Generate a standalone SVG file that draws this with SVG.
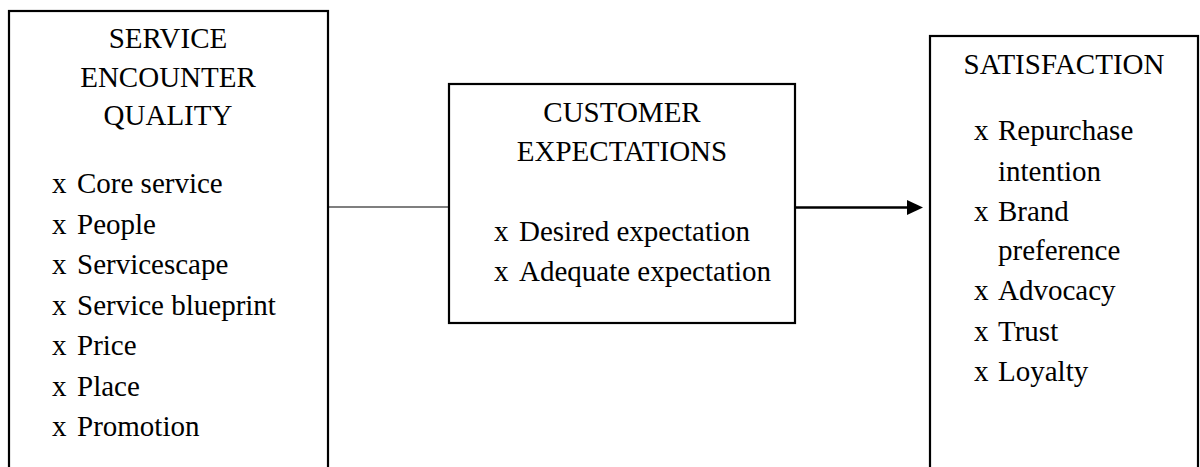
<svg xmlns="http://www.w3.org/2000/svg" width="1200" height="467" viewBox="0 0 1200 467">
<style>
.box{fill:#fff;stroke:#000;stroke-width:2.2}
.t{font-family:'Liberation Serif','Times New Roman',serif;font-size:29px;fill:#000}
.c{text-anchor:middle}
</style>
<rect width="1200" height="467" fill="#fff"/>
<g id="connectors">
<line x1="328" y1="207" x2="449" y2="207" stroke="#000" stroke-width="1.2"/>
<line x1="795" y1="207.5" x2="908" y2="207.5" stroke="#000" stroke-width="2.5"/>
<path d="M907,200 L923,207.5 L907,215 Z" fill="#000"/>
</g>
<g id="service-encounter-quality">
<rect class="box" x="9" y="11" width="319" height="470"/>
<text class="t c" x="168" y="48">SERVICE</text>
<text class="t c" x="168" y="87">ENCOUNTER</text>
<text class="t c" x="168" y="125">QUALITY</text>
<text class="t" x="52" y="193">x</text><text class="t" x="77" y="193">Core service</text>
<text class="t" x="52" y="233.5">x</text><text class="t" x="77" y="233.5">People</text>
<text class="t" x="52" y="274">x</text><text class="t" x="77" y="274">Servicescape</text>
<text class="t" x="52" y="314.5">x</text><text class="t" x="77" y="314.5">Service blueprint</text>
<text class="t" x="52" y="355">x</text><text class="t" x="77" y="355">Price</text>
<text class="t" x="52" y="395.5">x</text><text class="t" x="77" y="395.5">Place</text>
<text class="t" x="52" y="436">x</text><text class="t" x="77" y="436">Promotion</text>
</g>
<g id="customer-expectations">
<rect class="box" x="449" y="84" width="346" height="239"/>
<text class="t c" x="622" y="121.5">CUSTOMER</text>
<text class="t c" x="622" y="160.5">EXPECTATIONS</text>
<text class="t" x="494" y="240.5">x</text><text class="t" x="519" y="240.5">Desired expectation</text>
<text class="t" x="494" y="280.5">x</text><text class="t" x="519" y="280.5">Adequate expectation</text>
</g>
<g id="satisfaction">
<rect class="box" x="930" y="36" width="268" height="450"/>
<text class="t c" x="1064" y="73.5">SATISFACTION</text>
<text class="t" x="974" y="140">x</text><text class="t" x="998" y="140">Repurchase</text>
<text class="t" x="998" y="180.5">intention</text>
<text class="t" x="974" y="221">x</text><text class="t" x="998" y="221">Brand</text>
<text class="t" x="998" y="260">preference</text>
<text class="t" x="974" y="300">x</text><text class="t" x="998" y="300">Advocacy</text>
<text class="t" x="974" y="341">x</text><text class="t" x="998" y="341">Trust</text>
<text class="t" x="974" y="381">x</text><text class="t" x="998" y="381">Loyalty</text>
</g>
</svg>
